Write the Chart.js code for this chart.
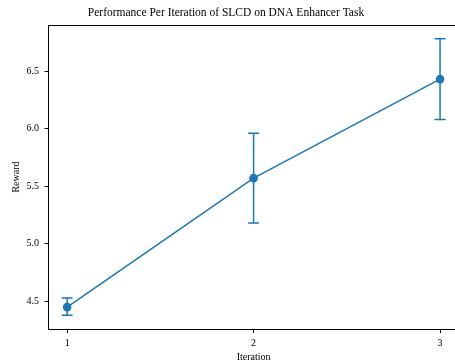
<!DOCTYPE html>
<html>
<head>
<meta charset="utf-8">
<script src="https://cdn.jsdelivr.net/npm/chart.js@4"></script>
<style>
html,body{margin:0;padding:0;background:#fff;overflow:hidden;width:455px;height:363px;}
#wrap{position:absolute;left:0;top:0;width:463px;height:363px;}
</style>
</head>
<body>
<div id="wrap"><canvas id="c" width="463" height="363"></canvas></div>
<script>
const iterations = [1, 2, 3];
const meanReward = [4.45, 5.57, 6.43];
const lowerReward = [4.38, 5.18, 6.08];
const upperReward = [4.53, 5.96, 6.78];
const yTicks = [4.5, 5.0, 5.5, 6.0, 6.5];
const titleText = 'Performance Per Iteration of SLCD on DNA Enhancer Task';

const COLOR = '#1f77b4';
const FONT = "'Liberation Serif', 'Times New Roman', serif";

const lo = Math.min(...lowerReward), hi = Math.max(...upperReward);
const ym = (hi - lo) * 0.05;
const xlo = Math.min(...iterations), xhi = Math.max(...iterations);
const xm = (xhi - xlo) * 0.05;

const errorBars = {
  id: 'errorBars',
  afterDatasetsDraw(chart) {
    const ctx = chart.ctx, xs = chart.scales.x, ys = chart.scales.y;
    ctx.save();
    ctx.strokeStyle = COLOR;
    ctx.lineWidth = 1.5;
    iterations.forEach((it, i) => {
      const x = xs.getPixelForValue(it);
      const y1 = ys.getPixelForValue(lowerReward[i]);
      const y2 = ys.getPixelForValue(upperReward[i]);
      ctx.beginPath();
      ctx.moveTo(x, y1); ctx.lineTo(x, y2);
      ctx.moveTo(x - 5.5, y1); ctx.lineTo(x + 5.5, y1);
      ctx.moveTo(x - 5.5, y2); ctx.lineTo(x + 5.5, y2);
      ctx.stroke();
    });
    ctx.restore();
  }
};

const frame = {
  id: 'frame',
  afterDraw(chart) {
    const {left, right, top, bottom} = chart.chartArea;
    const ctx = chart.ctx;
    ctx.save();
    ctx.strokeStyle = '#000';
    ctx.lineWidth = 1;
    ctx.beginPath();
    ctx.moveTo(left, top + 0.5); ctx.lineTo(right, top + 0.5);
    ctx.moveTo(right - 0.5, top); ctx.lineTo(right - 0.5, bottom);
    ctx.stroke();
    // title, centred over the visible 455px figure
    ctx.fillStyle = '#000';
    ctx.font = "11.5px " + FONT;
    ctx.textAlign = 'center';
    ctx.textBaseline = 'alphabetic';
    ctx.fillText(titleText, 226, 16);
    ctx.restore();
  }
};

new Chart(document.getElementById('c'), {
  type: 'line',
  data: {
    datasets: [{
      data: iterations.map((it, i) => ({x: it, y: meanReward[i]})),
      borderColor: COLOR,
      backgroundColor: COLOR,
      borderWidth: 1.5,
      pointRadius: 4.3,
      pointBorderWidth: 0,
      pointBackgroundColor: COLOR,
      tension: 0
    }]
  },
  options: {
    responsive: false,
    animation: false,
    devicePixelRatio: 1,
    layout: {padding: {left: 0, right: 2.9, top: 25, bottom: 0}},
    plugins: {
      legend: {display: false},
      tooltip: {enabled: false},
      title: {display: false}
    },
    scales: {
      x: {
        type: 'linear',
        min: xlo - xm,
        max: xhi + xm,
        afterBuildTicks(s) { s.ticks = iterations.map(v => ({value: v})); },
        afterFit(s) { s.height = 34; },
        ticks: {color: '#000', font: {family: FONT, size: 10}, padding: 4, autoSkip: false, maxRotation: 0,
                callback: v => String(v)},
        grid: {drawOnChartArea: false, drawTicks: true, tickLength: 4, tickColor: '#000', tickWidth: 1},
        border: {display: true, color: '#000', width: 1},
        title: {display: true, text: 'Iteration', color: '#000', font: {family: FONT, size: 10}, padding: {top: 0, bottom: 0}}
      },
      y: {
        type: 'linear',
        min: lo - ym,
        max: hi + ym,
        afterBuildTicks(s) { s.ticks = yTicks.map(v => ({value: v})); },
        afterFit(s) { s.width = 48.5; },
        ticks: {color: '#000', font: {family: FONT, size: 10}, padding: 5.5,
                callback: v => Number(v).toFixed(1)},
        grid: {drawOnChartArea: false, drawTicks: true, tickLength: 4, tickColor: '#000', tickWidth: 1},
        border: {display: true, color: '#000', width: 1},
        title: {display: true, text: 'Reward', color: '#000', font: {family: FONT, size: 10}, padding: {top: 10, bottom: 0}}
      }
    }
  },
  plugins: [errorBars, frame]
});
</script>
</body>
</html>
